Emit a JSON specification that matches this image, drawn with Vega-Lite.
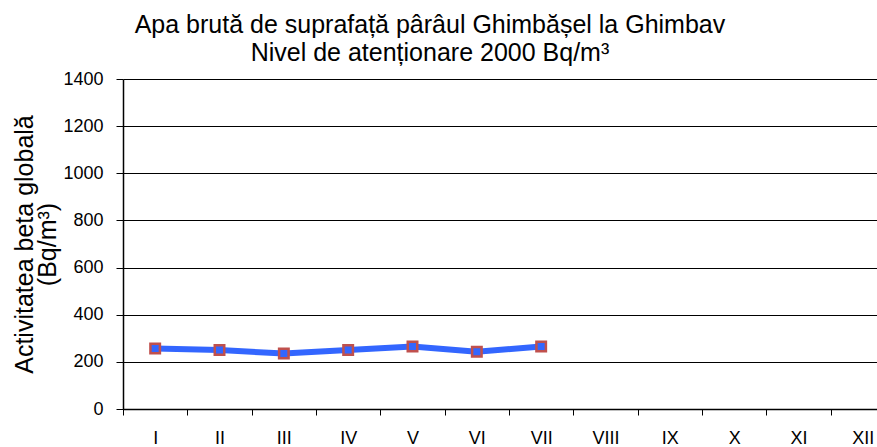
{
  "$schema": "https://vega.github.io/schema/vega-lite/v6.json",
  "autosize": {"type": "none"},
  "width": 754,
  "height": 330,
  "padding": {"left": 123, "top": 79, "right": 0, "bottom": 38},
  "background": "white",
  "title": {
    "text": ["Apa brută de suprafață pârâul Ghimbășel la Ghimbav", "Nivel de atenționare 2000 Bq/m³"],
    "font": "Liberation Sans, Arial, sans-serif",
    "fontSize": 25,
    "fontWeight": "normal",
    "color": "black",
    "anchor": "start",
    "align": "center",
    "dx": 417,
    "offset": 4,
    "lineHeight": 28
  },
  "config": {
    "view": {"stroke": null},
    "axis": {"labelFont": "Liberation Sans, Arial, sans-serif", "titleFont": "Liberation Sans, Arial, sans-serif", "labelColor": "black", "titleColor": "black"}
  },
  "data": {
    "values": [
      {"luna": "I", "val": 257},
      {"luna": "II", "val": 250},
      {"luna": "III", "val": 235},
      {"luna": "IV", "val": 250},
      {"luna": "V", "val": 265},
      {"luna": "VI", "val": 243},
      {"luna": "VII", "val": 265}
    ]
  },
  "encoding": {
    "x": {
      "field": "luna",
      "type": "ordinal",
      "sort": null,
      "scale": {"domain": ["I","II","III","IV","V","VI","VII","VIII","IX","X","XI","XII"], "range": [0, 772], "paddingInner": 0, "paddingOuter": 0},
      "axis": {
        "title": null,
        "labelAngle": 0,
        "labelFontSize": 18,
        "labelPadding": 14,
        "tickBand": "extent",
        "tickSize": 6,
        "tickColor": "black",
        "domainColor": "black",
        "domainWidth": 1.5,
        "grid": false
      }
    },
    "y": {
      "field": "val",
      "type": "quantitative",
      "scale": {"domain": [0, 1400], "nice": false},
      "axis": {
        "title": ["Activitatea beta globală", "(Bq/m³)"],
        "titleFontSize": 25,
        "titleFontWeight": "normal",
        "titlePadding": 2,
        "titleLineHeight": 23,
        "values": [0, 200, 400, 600, 800, 1000, 1200, 1400],
        "format": "d",
        "labelFontSize": 18,
        "labelPadding": 13,
        "tickSize": 7,
        "tickColor": "black",
        "domainColor": "black",
        "domainWidth": 1.5,
        "grid": true,
        "gridColor": "black",
        "gridWidth": 1
      }
    }
  },
  "layer": [
    {"mark": {"type": "line", "color": "#3366ff", "strokeWidth": 6}},
    {"mark": {"type": "point", "shape": "square", "filled": true, "fill": "#3366ff", "stroke": "#c0504d", "strokeWidth": 2.5, "size": 90, "opacity": 1}}
  ]
}
